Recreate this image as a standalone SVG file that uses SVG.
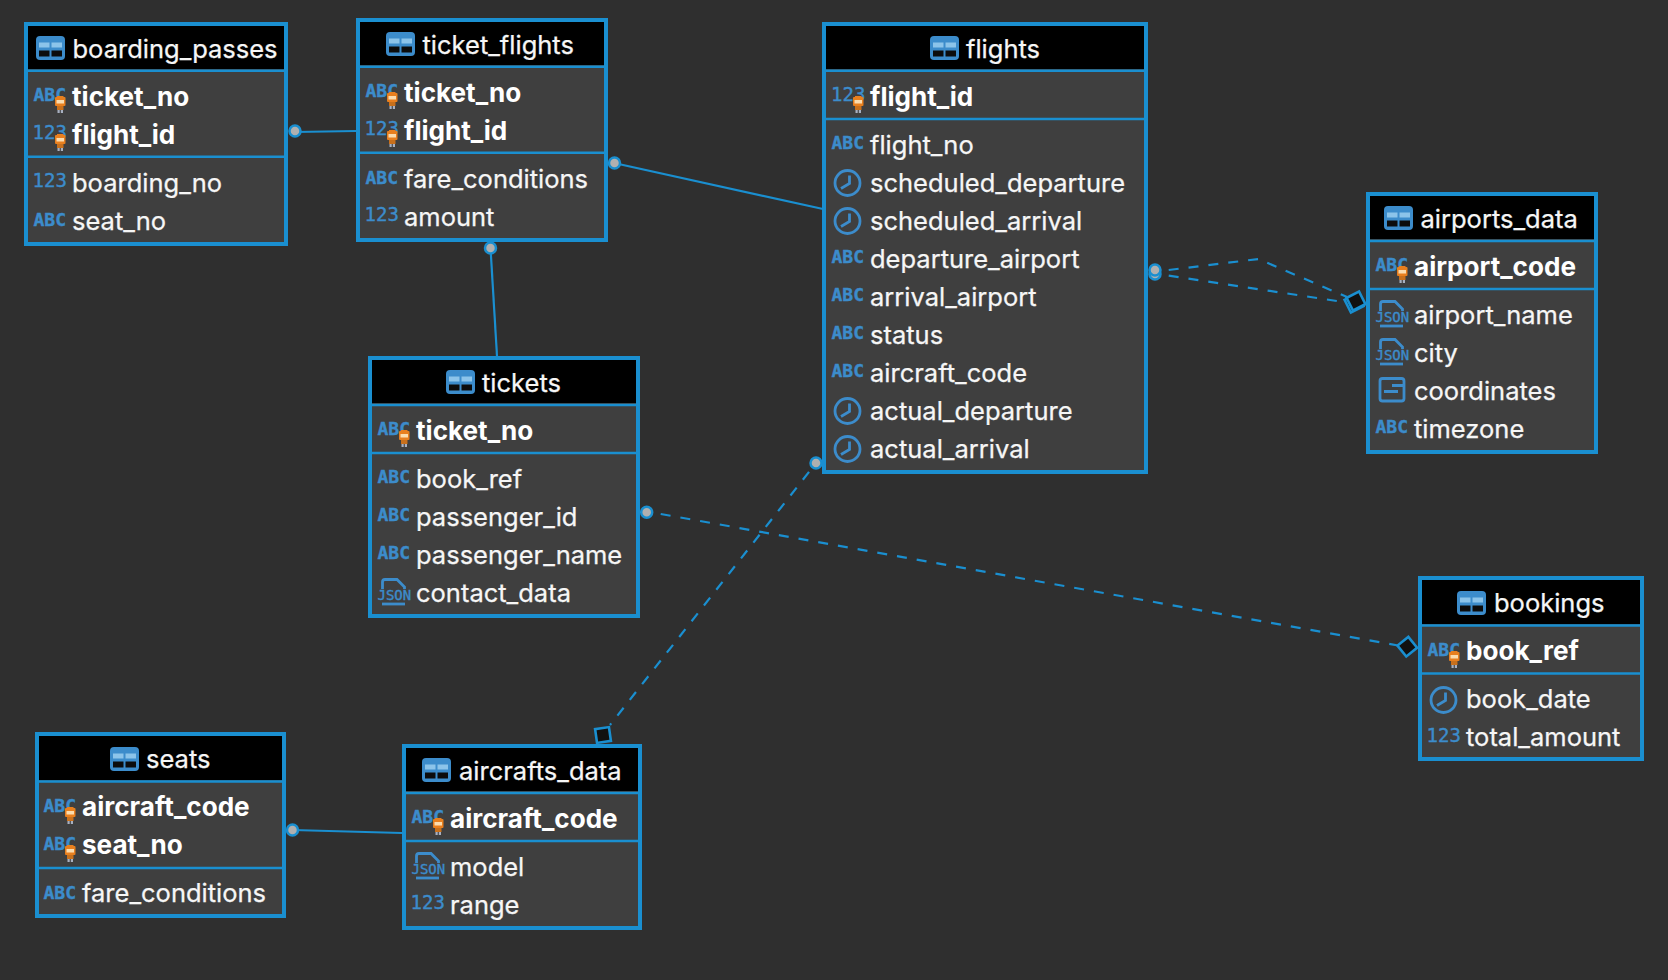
<svg xmlns="http://www.w3.org/2000/svg" width="1668" height="980" viewBox="0 0 1668 980">
<style>
.box{fill:#3f3f3f;stroke:#1a8fd0;stroke-width:4}
.head{fill:#000}
.div{stroke:#1a8fd0;stroke-width:2.5}
.t{font-family:Inter,"Noto Sans","Liberation Sans",sans-serif;font-size:25.5px;fill:#f6f6f6;stroke:#f6f6f6;stroke-width:.25}
.pk{font-size:26.1px;font-weight:700;fill:#fff;stroke:none}
.abc{font-family:"DejaVu Sans Mono","Liberation Mono",monospace;font-weight:700;font-size:18px;fill:#3c8ccb;stroke:#3c8ccb;stroke-width:.4}
.num{font-family:"DejaVu Sans Mono","Liberation Mono",monospace;font-size:19px;fill:#3c8ccb;stroke:#3c8ccb;stroke-width:.4}
.js{font-family:"DejaVu Sans Mono","Liberation Mono",monospace;font-size:14px;fill:#3c8ccb;stroke:#3c8ccb;stroke-width:.4}
.ic{fill:none;stroke:#3c8ccb;stroke-width:2.8}
.c{fill:none;stroke:#1a8fd0;stroke-width:2.2}
.d{stroke-dasharray:10 10}
.dot{fill:#b0b0b0;stroke:#1a8fd0;stroke-width:2.5}
.dia{fill:#111;stroke:#1a8fd0;stroke-width:2.6}
</style>
<defs>
<g id="tbl"><rect width="29" height="24" rx="4" fill="#3c8ccb"/><rect x="3" y="6.500" width="10.500" height="5" fill="#8cc4ea"/><rect x="15.500" y="6.500" width="10.500" height="5" fill="#8cc4ea"/><rect x="3" y="14.500" width="10.500" height="6" fill="#0c0c0c"/><rect x="15.500" y="14.500" width="10.500" height="6" fill="#0c0c0c"/></g>
<g id="key"><rect x="0" y="1" width="10.500" height="9" rx="1" fill="#e87f1e"/><rect x="2" y="0" width="6.500" height="2" fill="#e87f1e"/><rect x="1.500" y="4" width="7.500" height="3.500" fill="#fbdcae"/><rect x="2" y="10" width="6.500" height="4" fill="#c8701c"/><rect x="2.500" y="14" width="2.200" height="3" fill="#a8b0c0"/><rect x="5.800" y="14" width="2.200" height="3" fill="#a8b0c0"/></g>
<g id="clk"><circle cx="25.500" cy="-8" r="12.500" class="ic"/><path d="M27.500-15.500V-7.500L19-2.500" class="ic"/></g>
<path id="doc" d="M14.500-12V-19Q14.500-21.500 17-21.500H29L36.500-14V-12" class="ic"/>
<g id="ln"><rect x="14" y="-20.500" width="24" height="22.500" rx="2.500" class="ic"/><path d="M26-13.500H38M18-7.500H32" class="ic"/></g>
</defs>
<rect width="1668" height="980" fill="#2f2f2f"/>
<g id="connectors">
<path class="c" d="M295 132L356 131"/>
<path class="c" d="M614 163L823 209"/>
<path class="c" d="M490.500 248L497 356"/>
<path class="c" d="M292.500 830L402 833"/>
<path class="c d" d="M1168.700 270L1258.300 259L1347 297"/>
<path class="c d" d="M1168.700 275.700L1347 302.500"/>
<path class="c d" d="M660.700 514L1398 645.500"/>
<path class="c d" stroke-dashoffset="8" d="M610 725L816 463"/>
<circle class="dot" cx="295" cy="131" r="5.500"/>
<circle class="dot" cx="614.500" cy="163" r="5.500"/>
<circle class="dot" cx="490.500" cy="248" r="5.500"/>
<circle class="dot" cx="292.500" cy="830" r="5.500"/>
<circle class="dot" cx="1155" cy="274" r="5.500"/>
<circle class="dot" cx="1155" cy="270" r="5.500"/>
<circle class="dot" cx="646.700" cy="512.300" r="5.500"/>
<circle class="dot" cx="816" cy="463" r="5.500"/>
<rect class="dia" x="-7" y="-7" width="14" height="14" transform="translate(1354 303) rotate(-27)"/>
<rect class="dia" x="-7" y="-7" width="14" height="14" transform="translate(1356 301) rotate(-27)"/>
<rect class="dia" x="-7" y="-7" width="14" height="14" transform="translate(1407.300 646.700) rotate(-39)"/>
<rect class="dia" x="-7" y="-7" width="14" height="14" transform="translate(603 735) rotate(-8)"/>
</g>

<g id="boarding_passes" transform="translate(24 22)">
<rect class="box" x="2" y="2" width="260" height="220"/><rect class="head" x="4" y="4" width="256" height="43"/>
<path class="div" d="M4 48.700H260M4 134.700H260"/>
<use href="#tbl" x="12" y="14"/><text class="t" x="48.500" y="36">boarding_passes</text>
<text class="abc" x="9.500" y="79">ABC</text><use href="#key" x="31" y="74"/><text class="t pk" x="48" y="84">ticket_no</text>
<text class="num" x="8.500" y="117">123</text><use href="#key" x="31" y="112"/><text class="t pk" x="48" y="122">flight_id</text>
<text class="num" x="8.500" y="165">123</text><text class="t" x="48" y="170">boarding_no</text>
<text class="abc" x="9.500" y="204">ABC</text><text class="t" x="48" y="208">seat_no</text>
</g>

<g id="ticket_flights" transform="translate(356 18)">
<rect class="box" x="2" y="2" width="248" height="220"/><rect class="head" x="4" y="4" width="244" height="43"/>
<path class="div" d="M4 48.700H248M4 134.700H248"/>
<use href="#tbl" x="30" y="14"/><text class="t" x="66.500" y="36">ticket_flights</text>
<text class="abc" x="9.500" y="79">ABC</text><use href="#key" x="31" y="74"/><text class="t pk" x="48" y="84">ticket_no</text>
<text class="num" x="8.500" y="117">123</text><use href="#key" x="31" y="112"/><text class="t pk" x="48" y="122">flight_id</text>
<text class="abc" x="9.500" y="166">ABC</text><text class="t" x="48" y="170">fare_conditions</text>
<text class="num" x="8.500" y="203">123</text><text class="t" x="48" y="208">amount</text>
</g>

<g id="flights" transform="translate(822 22)">
<rect class="box" x="2" y="2" width="322" height="448"/><rect class="head" x="4" y="4" width="318" height="43"/>
<path class="div" d="M4 48.700H322M4 97H322"/>
<use href="#tbl" x="108" y="14"/><text class="t" x="144" y="36">flights</text>
<text class="num" x="9" y="79">123</text><use href="#key" x="31" y="74"/><text class="t pk" x="48" y="84">flight_id</text>
<text class="abc" x="9.500" y="127">ABC</text><text class="t" x="48" y="132">flight_no</text>
<use href="#clk" y="169"/><text class="t" x="48" y="170">scheduled_departure</text>
<use href="#clk" y="207"/><text class="t" x="48" y="208">scheduled_arrival</text>
<text class="abc" x="9.500" y="241">ABC</text><text class="t" x="48" y="246">departure_airport</text>
<text class="abc" x="9.500" y="279">ABC</text><text class="t" x="48" y="284">arrival_airport</text>
<text class="abc" x="9.500" y="317">ABC</text><text class="t" x="48" y="322">status</text>
<text class="abc" x="9.500" y="355">ABC</text><text class="t" x="48" y="360">aircraft_code</text>
<use href="#clk" y="397"/><text class="t" x="48" y="398">actual_departure</text>
<use href="#clk" y="435"/><text class="t" x="48" y="436">actual_arrival</text>
</g>

<g id="airports_data" transform="translate(1366 192)">
<rect class="box" x="2" y="2" width="228" height="258"/><rect class="head" x="4" y="4" width="224" height="43"/>
<path class="div" d="M4 49H228M4 97H228"/>
<use href="#tbl" x="18" y="14"/><text class="t" x="54.500" y="36">airports_data</text>
<text class="abc" x="9.500" y="79">ABC</text><use href="#key" x="31" y="74"/><text class="t pk" x="48" y="84">airport_code</text>
<use href="#doc" y="131"/><text class="js" x="9.500" y="130">JSON</text><path class="ic" d="M14 134H37"/><text class="t" x="48" y="132">airport_name</text>
<use href="#doc" y="169"/><text class="js" x="9.500" y="168">JSON</text><path class="ic" d="M14 172H37"/><text class="t" x="48" y="170">city</text>
<use href="#ln" y="207"/><text class="t" x="48" y="208">coordinates</text>
<text class="abc" x="9.500" y="241">ABC</text><text class="t" x="48" y="246">timezone</text>
</g>

<g id="tickets" transform="translate(368 356)">
<rect class="box" x="2" y="2" width="268" height="258"/><rect class="head" x="4" y="4" width="264" height="43"/>
<path class="div" d="M4 49H268M4 97H268"/>
<use href="#tbl" x="78" y="14"/><text class="t" x="114" y="36">tickets</text>
<text class="abc" x="9.500" y="79">ABC</text><use href="#key" x="31" y="74"/><text class="t pk" x="48" y="84">ticket_no</text>
<text class="abc" x="9.500" y="127">ABC</text><text class="t" x="48" y="132">book_ref</text>
<text class="abc" x="9.500" y="165">ABC</text><text class="t" x="48" y="170">passenger_id</text>
<text class="abc" x="9.500" y="203">ABC</text><text class="t" x="48" y="208">passenger_name</text>
<use href="#doc" y="245"/><text class="js" x="9.500" y="244">JSON</text><path class="ic" d="M14 248H37"/><text class="t" x="48" y="246">contact_data</text>
</g>

<g id="aircrafts_data" transform="translate(402 744)">
<rect class="box" x="2" y="2" width="236" height="182"/><rect class="head" x="4" y="4" width="232" height="43"/>
<path class="div" d="M4 49H236M4 97H236"/>
<use href="#tbl" x="20" y="14"/><text class="t" x="57" y="36">aircrafts_data</text>
<text class="abc" x="9.500" y="79">ABC</text><use href="#key" x="31" y="74"/><text class="t pk" x="48" y="84">aircraft_code</text>
<use href="#doc" y="131"/><text class="js" x="9.500" y="130">JSON</text><path class="ic" d="M14 134H37"/><text class="t" x="48" y="132">model</text>
<text class="num" x="8.500" y="165">123</text><text class="t" x="48" y="170">range</text>
</g>

<g id="seats" transform="translate(35 732)">
<rect class="box" x="2" y="2" width="247" height="182"/><rect class="head" x="4" y="4" width="243" height="44"/>
<path class="div" d="M4 49.500H247M4 136H247"/>
<use href="#tbl" x="75" y="15"/><text class="t" x="111" y="36">seats</text>
<text class="abc" x="8.500" y="80">ABC</text><use href="#key" x="30" y="75"/><text class="t pk" x="47" y="84">aircraft_code</text>
<text class="abc" x="8.500" y="118">ABC</text><use href="#key" x="30" y="113"/><text class="t pk" x="47" y="122">seat_no</text>
<text class="abc" x="8.500" y="167">ABC</text><text class="t" x="47" y="170">fare_conditions</text>
</g>

<g id="bookings" transform="translate(1418 576)">
<rect class="box" x="2" y="2" width="222" height="181"/><rect class="head" x="4" y="4" width="218" height="44"/>
<path class="div" d="M4 49.500H222M4 97.500H222"/>
<use href="#tbl" x="39" y="15"/><text class="t" x="76" y="36">bookings</text>
<text class="abc" x="9.500" y="80">ABC</text><use href="#key" x="31" y="75"/><text class="t pk" x="48" y="84">book_ref</text>
<use href="#clk" y="132"/><text class="t" x="48" y="132">book_date</text>
<text class="num" x="8.500" y="166">123</text><text class="t" x="48" y="170">total_amount</text>
</g>
</svg>
